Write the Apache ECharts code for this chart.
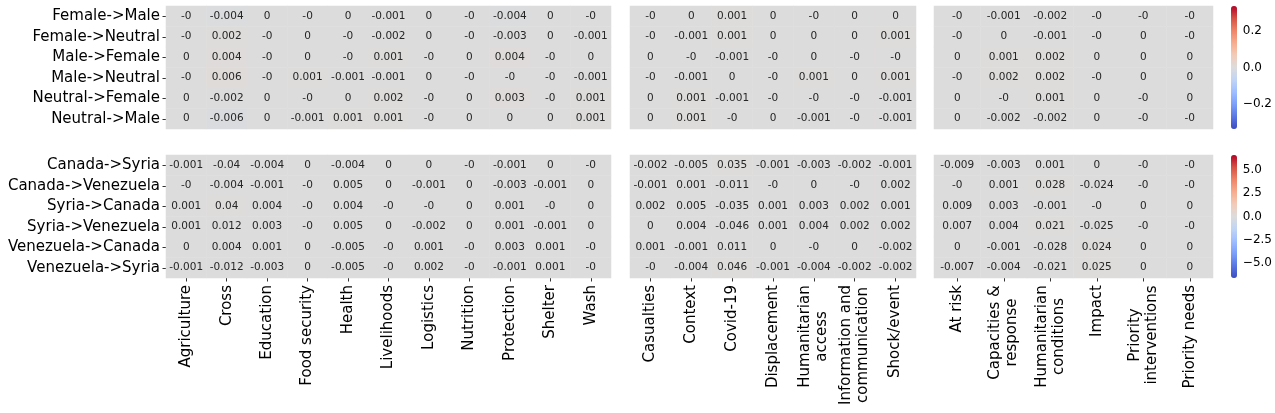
<!DOCTYPE html>
<html>
<head>
<meta charset="utf-8">
<script src="https://cdn.jsdelivr.net/npm/echarts@6/dist/echarts.min.js"></script>
<style>
  html, body { margin: 0; padding: 0; background: #fff; }
  #chart { width: 1275px; height: 413px; }
</style>
</head>
<body>
<div id="chart"></div>
<script>
// row labels
const genderRows = ['Female->Male', 'Female->Neutral', 'Male->Female', 'Male->Neutral', 'Neutral->Female', 'Neutral->Male']
const countryRows = ['Canada->Syria', 'Canada->Venezuela', 'Syria->Canada', 'Syria->Venezuela', 'Venezuela->Canada', 'Venezuela->Syria']

// column labels for the three panels
const sectors = ['Agriculture', 'Cross', 'Education', 'Food security', 'Health', 'Livelihoods', 'Logistics', 'Nutrition', 'Protection', 'Shelter', 'Wash']
const pillars = ['Casualties', 'Context', 'Covid-19', 'Displacement', 'Humanitarian\naccess', 'Information and\ncommunication', 'Shock/event']
const subpillars = ['At risk', 'Capacities &\nresponse', 'Humanitarian\nconditions', 'Impact', 'Priority\ninterventions', 'Priority needs']

// gender swaps (-0 means a small negative value rounded to zero)
const genderSectors = [
  [-0, -0.004, 0, -0, 0, -0.001, 0, -0, -0.004, 0, -0],
  [-0, 0.002, -0, 0, -0, -0.002, 0, -0, -0.003, 0, -0.001],
  [0, 0.004, -0, 0, -0, 0.001, -0, 0, 0.004, -0, 0],
  [-0, 0.006, -0, 0.001, -0.001, -0.001, 0, -0, -0, -0, -0.001],
  [0, -0.002, 0, -0, 0, 0.002, -0, 0, 0.003, -0, 0.001],
  [0, -0.006, 0, -0.001, 0.001, 0.001, -0, 0, 0, 0, 0.001]
]
const genderPillars = [
  [-0, 0, 0.001, 0, -0, 0, 0],
  [-0, -0.001, 0.001, 0, 0, 0, 0.001],
  [0, -0, -0.001, -0, 0, -0, -0],
  [-0, -0.001, 0, -0, 0.001, 0, 0.001],
  [0, 0.001, -0.001, -0, -0, -0, -0.001],
  [0, 0.001, -0, 0, -0.001, -0, -0.001]
]
const genderSubpillars = [
  [-0, -0.001, -0.002, -0, -0, -0],
  [-0, 0, -0.001, -0, 0, -0],
  [0, 0.001, 0.002, 0, 0, 0],
  [-0, 0.002, 0.002, -0, 0, 0],
  [0, -0, 0.001, 0, -0, 0],
  [0, -0.002, -0.002, 0, -0, -0]
]

// country swaps
const countrySectors = [
  [-0.001, -0.04, -0.004, 0, -0.004, 0, 0, -0, -0.001, 0, -0],
  [-0, -0.004, -0.001, -0, 0.005, 0, -0.001, 0, -0.003, -0.001, 0],
  [0.001, 0.04, 0.004, -0, 0.004, -0, -0, 0, 0.001, -0, 0],
  [0.001, 0.012, 0.003, -0, 0.005, 0, -0.002, 0, 0.001, -0.001, 0],
  [0, 0.004, 0.001, 0, -0.005, -0, 0.001, -0, 0.003, 0.001, -0],
  [-0.001, -0.012, -0.003, 0, -0.005, -0, 0.002, -0, -0.001, 0.001, -0]
]
const countryPillars = [
  [-0.002, -0.005, 0.035, -0.001, -0.003, -0.002, -0.001],
  [-0.001, 0.001, -0.011, -0, 0, -0, 0.002],
  [0.002, 0.005, -0.035, 0.001, 0.003, 0.002, 0.001],
  [0, 0.004, -0.046, 0.001, 0.004, 0.002, 0.002],
  [0.001, -0.001, 0.011, 0, -0, 0, -0.002],
  [-0, -0.004, 0.046, -0.001, -0.004, -0.002, -0.002]
]
const countrySubpillars = [
  [-0.009, -0.003, 0.001, 0, -0, -0],
  [-0, 0.001, 0.028, -0.024, -0, -0],
  [0.009, 0.003, -0.001, -0, 0, 0],
  [0.007, 0.004, 0.021, -0.025, -0, -0],
  [0, -0.001, -0.028, 0.024, 0, 0],
  [-0.007, -0.004, -0.021, 0.025, 0, 0]
]

// colorbar ranges and ticks
const genderRange = [-0.34, 0.34]
const genderTicks = [-0.2, 0, 0.2]
const countryRange = [-6.6, 6.6]
const countryTicks = [-5, -2.5, 0, 2.5, 5]

const coolwarm = ['#3b4cc0', '#5977e3', '#7b9ff9', '#9ebeff', '#c0d4f5', '#dddcdc', '#f2cbb7', '#f7ac8e', '#ee8468', '#d65244', '#b40426']
const font = 'DejaVu Sans'
const textColor = '#262626'

// measure text so that multi-line tick labels can be centred line by line
const ctx = document.createElement('canvas').getContext('2d')
ctx.font = '15px "' + font + '"'
const rich = {}
const labelStyle = {}
;[sectors, pillars, subpillars].forEach(cols => cols.forEach(c => {
  if (c.indexOf('\n') < 0) return
  const w = Math.ceil(Math.max(...c.split('\n').map(s => ctx.measureText(s).width)))
  rich['w' + w] = { width: w, align: 'center', fontSize: 15, fontFamily: font, color: '#000', lineHeight: 17 }
  labelStyle[c] = 'w' + w
}))

function fmtCell(v) {
  if (v === 0 && 1 / v < 0) return '-0'
  return String(v)
}

function toCells(matrix) {
  const out = []
  matrix.forEach((row, y) => row.forEach((v, x) => out.push([x, y, v])))
  return out
}

// panel geometry: [left, width]
const cols = [[166, 445], [630, 286], [934, 279]]
const rows = [[6, 123], [155, 123]]
const panels = [
  { row: 0, col: 0, x: sectors, y: genderRows, data: genderSectors },
  { row: 0, col: 1, x: pillars, y: genderRows, data: genderPillars },
  { row: 0, col: 2, x: subpillars, y: genderRows, data: genderSubpillars },
  { row: 1, col: 0, x: sectors, y: countryRows, data: countrySectors },
  { row: 1, col: 1, x: pillars, y: countryRows, data: countryPillars },
  { row: 1, col: 2, x: subpillars, y: countryRows, data: countrySubpillars }
]

const grid = []
const xAxis = []
const yAxis = []
const series = []

panels.forEach((p, i) => {
  grid.push({ left: cols[p.col][0], width: cols[p.col][1], top: rows[p.row][0], height: rows[p.row][1], containLabel: false })
  xAxis.push({
    type: 'category',
    gridIndex: i,
    data: p.x,
    position: 'bottom',
    axisLine: { show: false },
    splitLine: { show: false },
    axisTick: { show: p.row === 1, length: 3.5, alignWithLabel: true, lineStyle: { color: '#000', width: 0.8 } },
    axisLabel: {
      show: p.row === 1,
      rotate: 90,
      margin: 7,
      fontSize: 15,
      fontFamily: font,
      color: '#000',
      lineHeight: 17,
      formatter: v => labelStyle[v] ? v.split('\n').map(s => '{' + labelStyle[v] + '|' + s + '}').join('\n') : v,
      rich: rich
    }
  })
  yAxis.push({
    type: 'category',
    gridIndex: i,
    data: p.y,
    inverse: true,
    axisLine: { show: false },
    splitLine: { show: false },
    axisTick: { show: p.col === 0, length: 3.5, alignWithLabel: true, lineStyle: { color: '#000', width: 0.8 } },
    axisLabel: { show: p.col === 0, margin: 6, fontSize: 15, fontFamily: font, color: '#000' }
  })
  series.push({
    type: 'heatmap',
    xAxisIndex: i,
    yAxisIndex: i,
    data: toCells(p.data),
    label: {
      show: true,
      fontSize: 10.5,
      fontFamily: font,
      color: textColor,
      formatter: params => fmtCell(params.data[2])
    },
    itemStyle: { borderWidth: 0 },
    emphasis: { disabled: true }
  })
})

// colorbar tick axes
const bars = [
  { row: 0, range: genderRange, ticks: genderTicks, digits: 1 },
  { row: 1, range: countryRange, ticks: countryTicks, digits: 1 }
]
bars.forEach(b => {
  const gi = grid.length
  grid.push({ left: 1231, width: 6, top: rows[b.row][0], height: rows[b.row][1] })
  xAxis.push({ type: 'value', gridIndex: gi, show: false, min: 0, max: 1 })
  yAxis.push({
    type: 'value',
    gridIndex: gi,
    position: 'right',
    min: b.range[0],
    max: b.range[1],
    splitLine: { show: false },
    axisLine: { show: false },
    axisTick: { show: true, length: 3.5, customValues: b.ticks, lineStyle: { color: '#000', width: 0.8 } },
    axisLabel: {
      show: true,
      margin: 6,
      fontSize: 12,
      fontFamily: font,
      color: '#000',
      customValues: b.ticks,
      formatter: v => v.toFixed(b.digits).replace('-', '\u2212')
    }
  })
})

const chart = echarts.init(document.getElementById('chart'), null, { renderer: 'canvas' })
chart.setOption({
  animation: false,
  backgroundColor: '#fff',
  textStyle: { fontFamily: font },
  grid,
  xAxis,
  yAxis,
  visualMap: [
    {
      type: 'continuous',
      seriesIndex: [0, 1, 2],
      min: genderRange[0],
      max: genderRange[1],
      calculable: false,
      hoverLink: false,
      text: null,
      left: 1231,
      top: rows[0][0],
      itemWidth: 6,
      itemHeight: rows[0][1],
      padding: 0,
      inRange: { color: coolwarm }
    },
    {
      type: 'continuous',
      seriesIndex: [3, 4, 5],
      min: countryRange[0],
      max: countryRange[1],
      calculable: false,
      hoverLink: false,
      text: null,
      left: 1231,
      top: rows[1][0],
      itemWidth: 6,
      itemHeight: rows[1][1],
      padding: 0,
      inRange: { color: coolwarm }
    }
  ],
  series
})
</script>
</body>
</html>
